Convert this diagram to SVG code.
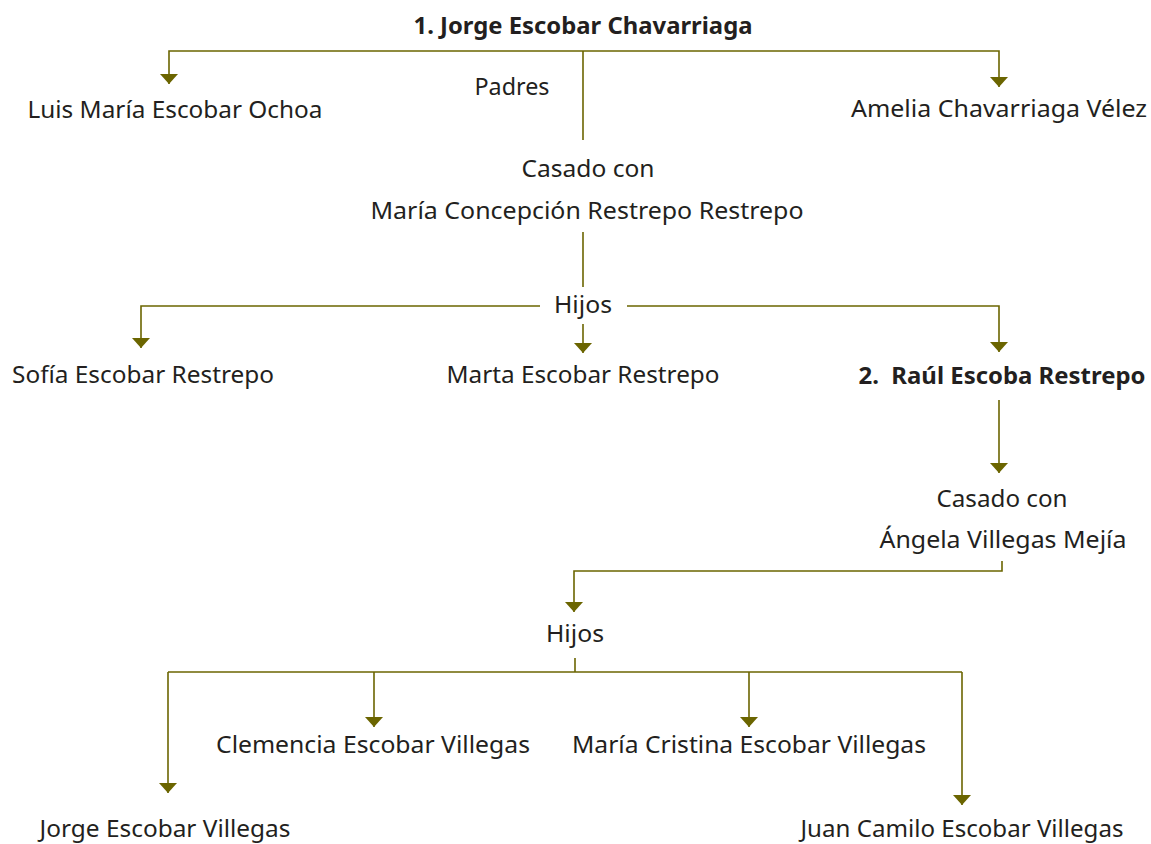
<svg xmlns="http://www.w3.org/2000/svg" width="1151" height="844" viewBox="0 0 1151 844">
<style>
.t{font-family:"Noto Sans","Open Sans","DejaVu Sans",sans-serif;font-size:24px;fill:#231f20;text-anchor:middle}
.b{font-weight:bold}
.c{fill:none;stroke:#6b6500;stroke-width:1.6}
</style>
<defs>
<marker id="ah" viewBox="0 0 10 18" markerWidth="10" markerHeight="18" refX="10" refY="9" orient="auto" markerUnits="userSpaceOnUse">
<path d="M0,0 L10,9 L0,18 z" fill="#6b6500"/>
</marker>
</defs>
<rect width="1151" height="844" fill="#ffffff"/>
<g id="connectors">
<path class="c" d="M583,51 H169 V84" marker-end="url(#ah)"/>
<path class="c" d="M583,51 H999 V87" marker-end="url(#ah)"/>
<path class="c" d="M583,51 V140"/>
<path class="c" d="M583,232 V287"/>
<path class="c" d="M540,306 H141 V348" marker-end="url(#ah)"/>
<path class="c" d="M627,306 H999 V352" marker-end="url(#ah)"/>
<path class="c" d="M583,324 V353" marker-end="url(#ah)"/>
<path class="c" d="M999,400 V473" marker-end="url(#ah)"/>
<path class="c" d="M1002,561 V571 H574 V612" marker-end="url(#ah)"/>
<path class="c" d="M575,658 V672"/>
<path class="c" d="M168,672 H962"/>
<path class="c" d="M168,672 V793" marker-end="url(#ah)"/>
<path class="c" d="M374,672 V727" marker-end="url(#ah)"/>
<path class="c" d="M749,672 V727" marker-end="url(#ah)"/>
<path class="c" d="M962,672 V805" marker-end="url(#ah)"/>
</g>
<g id="n-jorge"><text class="t b" x="583" y="34" textLength="339" lengthAdjust="spacingAndGlyphs">1. Jorge Escobar Chavarriaga</text></g>
<g id="n-padres"><text class="t" x="512" y="95" textLength="75" lengthAdjust="spacingAndGlyphs">Padres</text></g>
<g id="n-luis"><text class="t" x="175" y="118" textLength="295" lengthAdjust="spacingAndGlyphs">Luis María Escobar Ochoa</text></g>
<g id="n-amelia"><text class="t" x="999" y="117" textLength="296" lengthAdjust="spacingAndGlyphs">Amelia Chavarriaga Vélez</text></g>
<g id="n-casado1">
<text class="t" x="588" y="177" textLength="133" lengthAdjust="spacingAndGlyphs">Casado con</text>
<text class="t" x="587" y="219" textLength="433" lengthAdjust="spacingAndGlyphs">María Concepción Restrepo Restrepo</text>
</g>
<g id="n-hijos1"><text class="t" x="583" y="313" textLength="58" lengthAdjust="spacingAndGlyphs">Hijos</text></g>
<g id="n-sofia"><text class="t" x="143" y="383" textLength="262" lengthAdjust="spacingAndGlyphs">Sofía Escobar Restrepo</text></g>
<g id="n-marta"><text class="t" x="583" y="383" textLength="273" lengthAdjust="spacingAndGlyphs">Marta Escobar Restrepo</text></g>
<g id="n-raul"><text class="t b" x="1002" y="384" textLength="287" lengthAdjust="spacingAndGlyphs" style="white-space:pre">2.  Raúl Escoba Restrepo</text></g>
<g id="n-casado2">
<text class="t" x="1002" y="507" textLength="131" lengthAdjust="spacingAndGlyphs">Casado con</text>
<text class="t" x="1003" y="548" textLength="247" lengthAdjust="spacingAndGlyphs">Ángela Villegas Mejía</text>
</g>
<g id="n-hijos2"><text class="t" x="575" y="642" textLength="58" lengthAdjust="spacingAndGlyphs">Hijos</text></g>
<g id="n-clemencia"><text class="t" x="373" y="753" textLength="314" lengthAdjust="spacingAndGlyphs">Clemencia Escobar Villegas</text></g>
<g id="n-mcristina"><text class="t" x="749" y="753" textLength="354" lengthAdjust="spacingAndGlyphs">María Cristina Escobar Villegas</text></g>
<g id="n-jorgev"><text class="t" x="165" y="837" textLength="251" lengthAdjust="spacingAndGlyphs">Jorge Escobar Villegas</text></g>
<g id="n-juan"><text class="t" x="962" y="837" textLength="323" lengthAdjust="spacingAndGlyphs">Juan Camilo Escobar Villegas</text></g>
</svg>
